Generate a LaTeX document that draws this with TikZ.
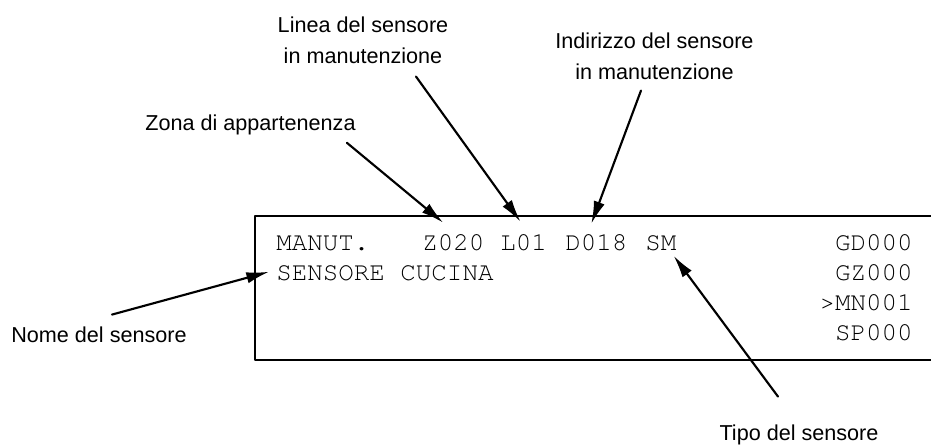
\documentclass[tikz,border=0pt]{standalone}
\usepackage{fontspec}
\setmainfont{Liberation Sans}
\newfontfamily\lcdfont{texgyrecursor-regular.otf}
\usetikzlibrary{arrows.meta,calc}
\begin{document}
\begin{tikzpicture}[x=0.75pt,y=-0.75pt,line join=round,line cap=round,
	lbl/.style={font=\fontsize{16.2}{23}\selectfont,inner sep=0pt,align=center},
	lcd/.style={font=\lcdfont\fontsize{19.4}{23}\selectfont,inner sep=0pt},
	pointer/.style={line width=1.6pt,-{Latex[length=17pt,width=8.5pt]}}]
	\useasboundingbox (0,0) rectangle (931,447);
	\clip (0,0) rectangle (931,447);
	% display frame
	\coordinate (P) at (255,216);
	\coordinate (Q) at (945,216);
	\coordinate (R) at (255,360);
	\coordinate (S) at (945,360);
	\draw[line width=1.5pt] (Q)--(P)--(R)--(S);
	% display text
	\node[lcd,anchor=base west] (manut) at (276,250) {MANUT.};
	\node[lcd,anchor=base west] (zona) at (422,250) {Z020};
	\node[lcd,anchor=base west] (linea) at (500,250) {L01};
	\node[lcd,anchor=base west] (indir) at (565,250) {D018};
	\node[lcd,anchor=base west] (tipo) at (645,250) {SM};
	\node[lcd,anchor=base west] (nome) at (276,280) {SENSORE CUCINA};
	\node[lcd,anchor=base east] (gd) at (913,250) {GD000};
	\node[lcd,anchor=base east] (gz) at (913,280) {GZ000};
	\node[lcd,anchor=base east] (mn) at (913,310) {>MN001};
	\node[lcd,anchor=base east] (sp) at (913,340) {SP000};
	% labels
	\node[lbl,anchor=base] (zonalbl) at (250.5,130) {Zona di appartenenza};
	\node[lbl] (linealbl) at (363,40) {Linea del sensore\\in manutenzione};
	\node[lbl] (indirlbl) at (654.5,56) {Indirizzo del sensore\\in manutenzione};
	\node[lbl,anchor=base] (tipolbl) at (799,440) {Tipo del sensore};
	\node[lbl,anchor=base] (nomelbl) at (99,342) {Nome del sensore};
	% arrows
	\draw[pointer] ($(zonalbl.south east)+(-9,8)$) -- ($(zona.north)+(-10,-11)$);
	\draw[pointer] ($(linealbl.south)+(53,13)$) -- ($(linea.north)+(-3,-12)$);
	\draw[pointer] ($(indirlbl.south)+(-13.5,11)$) -- ($(indir.north)+(-5,-10)$);
	\draw[pointer] ($(tipolbl.north)+(-21,-27.5)$) -- ($(tipo.south east)+(-3,5)$);
	\draw[pointer] ($(nomelbl.north)+(13,-11.5)$) -- ($(nome.west)+(-7,-1)$);
\end{tikzpicture}
\end{document}
